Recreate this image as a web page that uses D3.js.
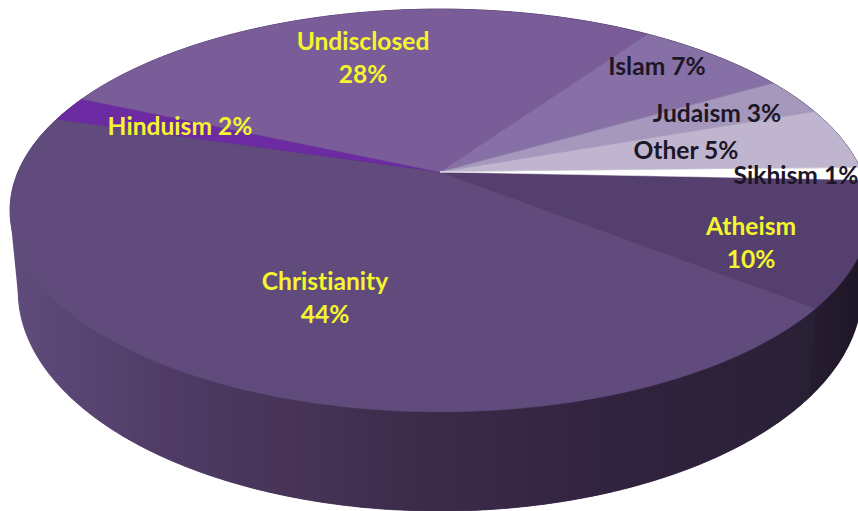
<!DOCTYPE html>
<html>
<head>
<meta charset="utf-8">
<script src="https://cdn.jsdelivr.net/npm/d3@7"></script>
<style>
  html, body { margin: 0; padding: 0; background: #fff; overflow: hidden; }
  text { font-family: Lato, "Open Sans", sans-serif; font-weight: 700; font-size: 24.6px; text-anchor: middle; font-variant-ligatures: none; }
</style>
</head>
<body>
<svg id="chart" width="858" height="511"></svg>
<script>
// Religious affiliation, percent of respondents
const categories = ["Atheism", "Christianity", "Hinduism", "Undisclosed", "Islam", "Judaism", "Other", "Sikhism"];
const shares = [10, 44, 2, 28, 7, 3, 5, 1];
const sliceColors = ["#553f6e", "#614b7c", "#6c2ba3", "#7a5c99", "#8670a6", "#a598bc", "#bfb5ce", "#ffffff"];

// Label text per slice, one entry per line
const labelLines = [["Atheism", "10%"], ["Christianity", "44%"], ["Hinduism 2%"], ["Undisclosed", "28%"],
                    ["Islam 7%"], ["Judaism 3%"], ["Other 5%"], ["Sikhism 1%"]];
const labelColors = ["#f5f52e", "#f5f52e", "#f5f52e", "#f5f52e", "#1c1628", "#1c1628", "#1c1628", "#1c1628"];

// Perspective of the disc: near edge is drawn larger than the far edge
const tilt = 0.191;
const topDisc = { cx: 440, cy: 172, rx: 422, ry: 194 };
const baseDisc = { cx: 440, cy: 249, rx: 414, ry: 212 };
const project = (disc, a, r = 1) => {
  const u = r * Math.sin(a), v = -r * Math.cos(a);
  const w = 1 - tilt * v;
  return [disc.cx + disc.rx * u / w, disc.cy + disc.ry * v / w];
};

const startAngle = (92.3) * Math.PI / 180;
const slices = d3.pie().sort(null).startAngle(startAngle).endAngle(startAngle + 2 * Math.PI)(shares);

const rimPoints = (disc, s) => {
  const n = Math.max(4, Math.ceil((s.endAngle - s.startAngle) / 0.01));
  return d3.range(n + 1).map(i => project(disc, s.startAngle + (s.endAngle - s.startAngle) * i / n));
};

const svg = d3.select("#chart");
const defs = svg.append("defs");

const sideShade = defs.append("linearGradient").attr("id", "sideShade")
  .attr("gradientUnits", "userSpaceOnUse").attr("x1", 10).attr("x2", 858).attr("y1", 0).attr("y2", 0);
[[0, "#604c7b"], [0.07, "#5a4674"], [0.2, "#4e3a64"], [0.35, "#463355"], [0.5, "#3c2a49"], [0.75, "#2f223d"], [0.94, "#292036"], [1, "#1f1829"]]
  .forEach(([o, c]) => sideShade.append("stop").attr("offset", o).attr("stop-color", c));

const darkSide = defs.append("linearGradient").attr("id", "darkSide")
  .attr("gradientUnits", "userSpaceOnUse").attr("x1", 810).attr("x2", 858).attr("y1", 0).attr("y2", 0);
[[0, "#261c30"], [1, "#1e1727"]].forEach(([o, c]) => darkSide.append("stop").attr("offset", o).attr("stop-color", c));

const line = d3.line();
const sideFill = (s, i) => i === 0 ? "url(#darkSide)" : "url(#sideShade)";

// Silhouette of the whole cylinder, so the flanks run straight from top rim to base rim
const silhouette = d3.polygonHull(slices.flatMap(s => [...rimPoints(topDisc, s), ...rimPoints(baseDisc, s)]));
svg.append("path")
  .attr("d", line(silhouette) + "Z")
  .attr("fill", "url(#sideShade)");

// Outer wall of the cylinder
svg.append("g").selectAll("path").data(slices).join("path")
  .attr("d", s => line([...rimPoints(topDisc, s), ...rimPoints(baseDisc, s).reverse()]) + "Z")
  .attr("fill", sideFill)
  .attr("stroke", sideFill)
  .attr("stroke-width", 0.8);

// Top face
svg.append("g").selectAll("path").data(slices).join("path")
  .attr("d", s => line([[topDisc.cx, topDisc.cy], ...rimPoints(topDisc, s)]) + "Z")
  .attr("fill", (s, i) => sliceColors[i])
  .attr("stroke", (s, i) => sliceColors[i])
  .attr("stroke-width", 0.5);

// Label anchor for each slice: centre x and first baseline
const labelSpots = [[751, 235], [325, 290], [180, 135], [363, 50], [657, 75], [717, 122], [686, 159], [796, 184]];
const lineGap = 33;

svg.append("g").selectAll("text").data(labelLines).join("text")
  .attr("x", (d, i) => labelSpots[i][0])
  .attr("y", (d, i) => labelSpots[i][1])
  .attr("fill", (d, i) => labelColors[i])
  .selectAll("tspan").data(d => d).join("tspan")
  .attr("x", function () { return d3.select(this.parentNode).attr("x"); })
  .attr("dy", (d, j) => j ? lineGap : 0)
  .text(d => d);
</script>
</body>
</html>
